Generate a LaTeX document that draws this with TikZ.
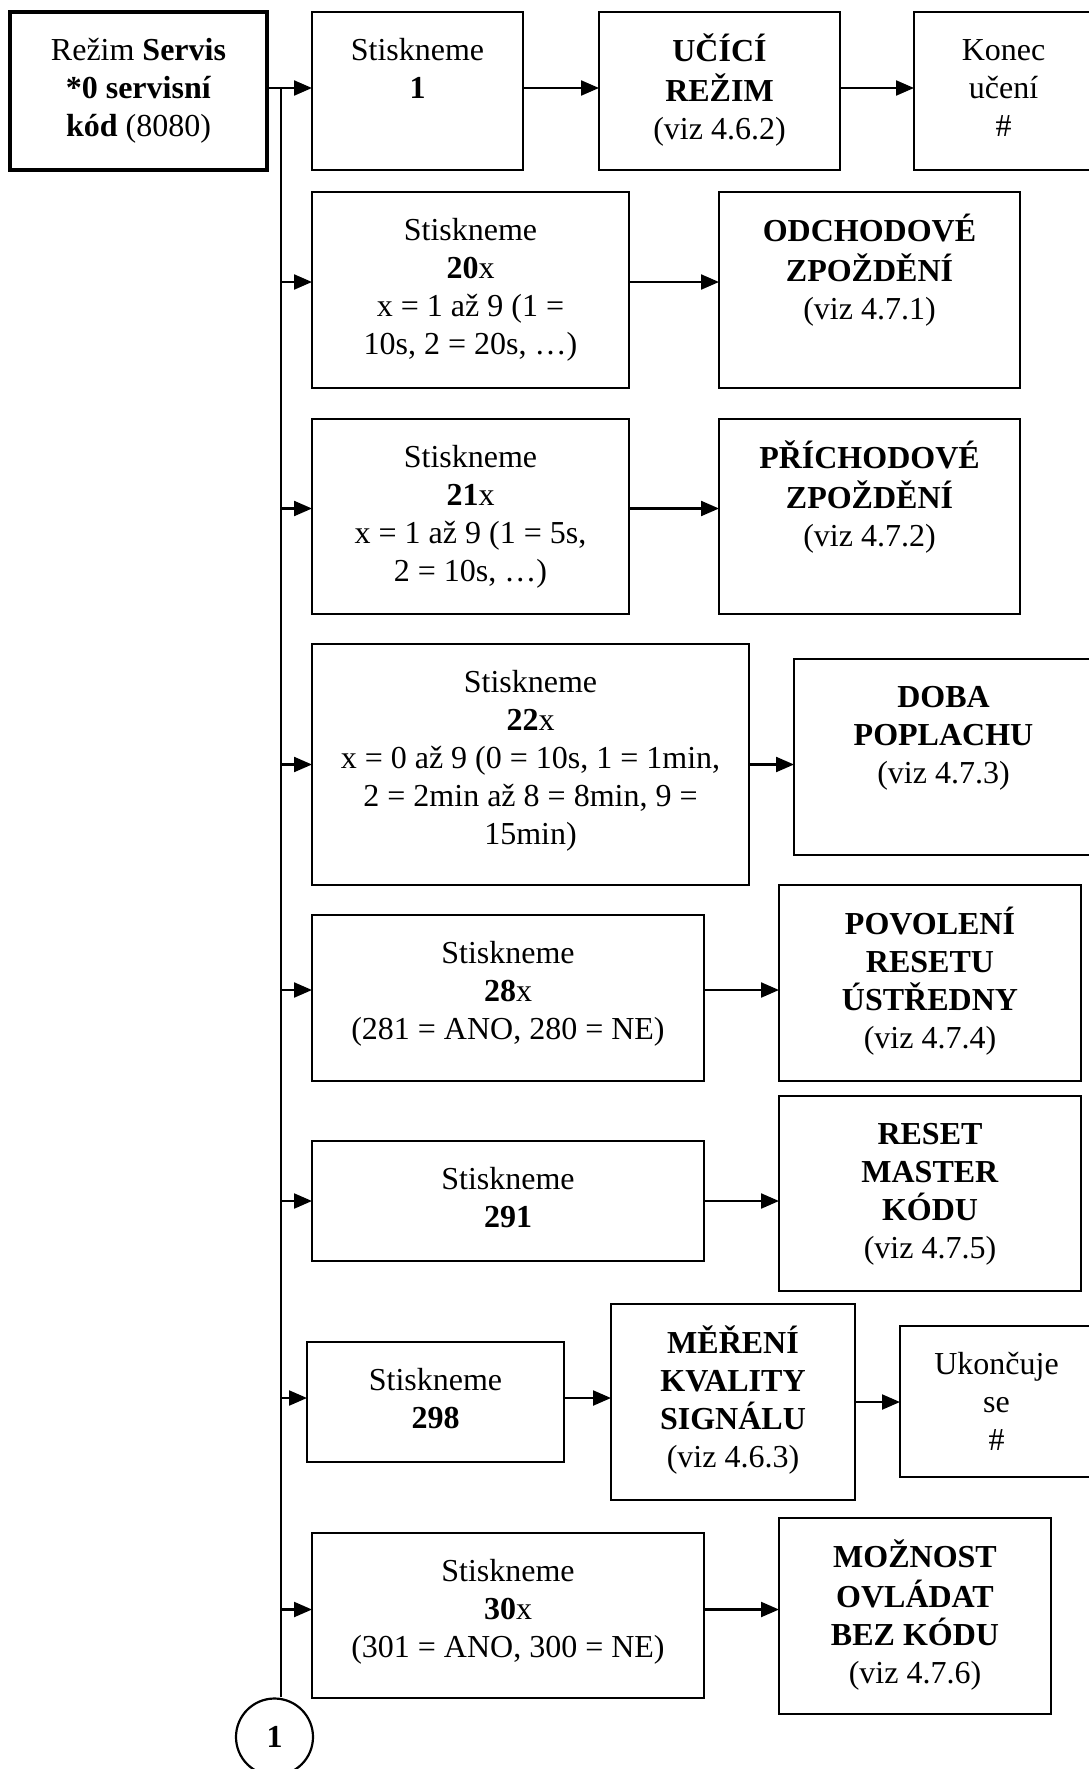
\documentclass[tikz,border=0pt]{standalone}
\usepackage{fontspec}
\setmainfont{Liberation Serif}
\usetikzlibrary{arrows.meta}

% box with its text set from the top, first line fixed below the upper edge
\newcommand\flowbox[7][boxline]{%
  \node[#1, minimum width={#5-#3}, minimum height={#6-#4}, anchor=north west] (#2) at (#3,#4) {};
  \node[boxtext, anchor=north] (#2-t) at ([yshift=-21.4pt]#2.north) {\strut #7};
}

\begin{document}
\begin{tikzpicture}[x=1pt, y=-1pt,
  boxline/.style={draw, line width=2.2pt, inner sep=0pt, outer sep=0pt},
  startline/.style={draw, line width=4.5pt, inner sep=0pt, outer sep=0pt},
  boxtext/.style={align=center, inner sep=0pt, font=\fontsize{32}{38}\selectfont},
  arr/.style={line width=2.2pt, -{Triangle[length=18pt, width=15pt]}},
  bus/.style={line width=2.2pt}
]
\useasboundingbox (0,0) rectangle (1089,1769);
\clip (0,0) rectangle (1089,1769);
\fill[white] (0,0) rectangle (1089,1769);

% entry and top row
\flowbox[startline]{start}{10}{12}{267}{170}{Režim \textbf{Servis}\\\textbf{*0 servisní}\\\textbf{kód} (8080)}
\flowbox{s1}{312}{12}{523}{170}{Stiskneme\\\textbf{1}}
\flowbox{ucici}{599}{12}{840}{170}{\textbf{UČÍCÍ}\\\textbf{REŽIM}\\(viz 4.6.2)}
\flowbox{konec}{914}{12}{1093}{170}{Konec\\učení\\\#}

% key sequences on the left
\flowbox{b20}{312}{192}{629}{388}{Stiskneme\\\textbf{20}x\\x = 1 až 9 (1 =\\10s, 2 = 20s, …)}
\flowbox{b21}{312}{419}{629}{614}{Stiskneme\\\textbf{21}x\\x = 1 až 9 (1 = 5s,\\2 = 10s, …)}
\flowbox{b22}{312}{644}{749}{885}{Stiskneme\\\textbf{22}x\\x = 0 až 9 (0 = 10s, 1 = 1min,\\2 = 2min až 8 = 8min, 9 =\\15min)}
\flowbox{b28}{312}{915}{704}{1081}{Stiskneme\\\textbf{28}x\\(281 = ANO, 280 = NE)}
\flowbox{b291}{312}{1141}{704}{1261}{Stiskneme\\\textbf{291}}
\flowbox{b298}{307}{1342}{564}{1462}{Stiskneme\\\textbf{298}}
\flowbox{b30}{312}{1533}{704}{1698}{Stiskneme\\\textbf{30}x\\(301 = ANO, 300 = NE)}

% functions reached
\flowbox{odch}{719}{192}{1020}{388}{\textbf{ODCHODOVÉ}\\\textbf{ZPOŽDĚNÍ}\\(viz 4.7.1)}
\flowbox{prich}{719}{419}{1020}{614}{\textbf{PŘÍCHODOVÉ}\\\textbf{ZPOŽDĚNÍ}\\(viz 4.7.2)}
\flowbox{doba}{794}{659}{1093}{855}{\textbf{DOBA}\\\textbf{POPLACHU}\\(viz 4.7.3)}
\flowbox{povol}{779}{885}{1081}{1081}{\textbf{POVOLENÍ}\\\textbf{RESETU}\\\textbf{ÚSTŘEDNY}\\(viz 4.7.4)}
\flowbox{reset}{779}{1096}{1081}{1291}{\textbf{RESET}\\\textbf{MASTER}\\\textbf{KÓDU}\\(viz 4.7.5)}
\flowbox{mereni}{611}{1304}{855}{1500}{\textbf{MĚŘENÍ}\\\textbf{KVALITY}\\\textbf{SIGNÁLU}\\(viz 4.6.3)}
\flowbox{ukonc}{900}{1326}{1093}{1477}{Ukončuje\\se\\\#}
\flowbox{mozn}{779}{1518}{1051}{1714}{\textbf{MOŽNOST}\\\textbf{OVLÁDAT}\\\textbf{BEZ KÓDU}\\(viz 4.7.6)}

% continuation mark
\node[draw, circle, line width=2.2pt, minimum size=77pt, inner sep=0pt,
      font=\fontsize{32}{38}\selectfont\bfseries] (cont) at (274.5,1737) {1};

% main bus
\path ([yshift=3pt]start.east) -- ++(14,0) coordinate (busTop);
\draw[arr] ([yshift=3pt]start.east) -- ([yshift=3pt]s1.west);
\draw[bus] (busTop) -- (busTop |- cont.north);

% branches from the bus and the step that follows each (raise = arrow height above box centre)
\foreach \b/\t/\r in {b20/odch/8, b21/prich/8, b22/doba/0, b28/povol/8,
                      b291/reset/0, b298/mereni/4, b30/mozn/6} {
  \draw[arr] ([yshift=\r pt]busTop |- \b.west) -- ([yshift=\r pt]\b.west);
  \draw[arr] ([yshift=\r pt]\b.east) -- ([yshift=\r pt]\b.east -| \t.west);
}

% onward connections in the top row and after the signal test
\draw[arr] ([yshift=3pt]s1.east) -- ([yshift=3pt]s1.east -| ucici.west);
\draw[arr] ([yshift=3pt]ucici.east) -- ([yshift=3pt]ucici.east -| konec.west);
\draw[arr] (mereni.east) -- (mereni.east -| ukonc.west);
\end{tikzpicture}
\end{document}
